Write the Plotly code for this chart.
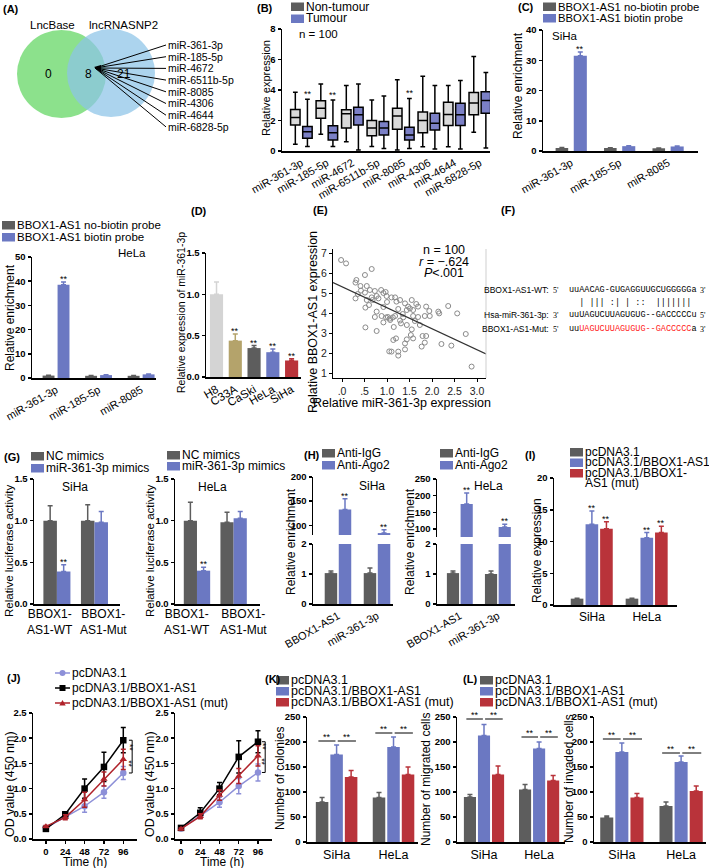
import plotly.graph_objects as go

W, H = 709, 868
SANS = "Liberation Sans"
MONO = "Liberation Mono"
GREY = "#5d5d5d"; BLUE = "#6b78c2"; RED = "#b9333a"; LGREY = "#d4d4d4"
OLIVE = "#b4a36b"; PURPLE = "#8d90d8"; BOXBLUE = "#7b80c6"; BOXGREY = "#dadada"

# ---------------- data ----------------
venn_sets = ["LncBase", "lncRNASNP2"]
venn_counts = [0, 8, 21]
venn_mirs = ["miR-361-3p", "miR-185-5p", "miR-4672", "miR-6511b-5p",
             "miR-8085", "miR-4306", "miR-4644", "miR-6828-5p"]

B_mirs = venn_mirs
B_nt_lo = [0.45, 1.10, 0.60, 0.30, 0.07, 0.28, 0.28, 1.23]
B_nt_q1 = [1.70, 2.15, 1.50, 1.00, 1.42, 1.20, 1.67, 2.37]
B_nt_med = [2.20, 2.80, 2.45, 1.50, 2.30, 2.00, 2.40, 3.14]
B_nt_q3 = [2.72, 3.30, 2.70, 2.00, 2.80, 2.55, 3.20, 3.84]
B_nt_hi = [3.85, 4.40, 4.30, 3.35, 4.67, 4.90, 4.30, 6.20]
B_t_lo = [0.30, 0.30, 0.07, 0.17, 0.17, 0.13, 0.13, 0.20]
B_t_q1 = [0.83, 0.72, 1.70, 1.05, 0.72, 1.38, 1.67, 2.48]
B_t_med = [1.27, 1.20, 2.37, 1.50, 1.05, 1.82, 2.37, 3.31]
B_t_q3 = [1.60, 1.65, 2.87, 1.93, 1.55, 2.48, 3.13, 3.88]
B_t_hi = [3.40, 3.35, 4.40, 3.60, 3.45, 4.30, 4.63, 5.15]
B_sig = [True, True, False, False, True, False, False, False]

C_mirs = ["miR-361-3p", "miR-185-5p", "miR-8085"]
C_siha_nob = [1.0, 1.0, 0.9]; C_siha_nob_err = [0.15, 0.1, 0.1]
C_siha_bio = [31.5, 1.6, 1.5]; C_siha_bio_err = [1.2, 0.15, 0.15]
C_hela_nob = [1.0, 0.9, 0.9]; C_hela_nob_err = [0.15, 0.1, 0.1]
C_hela_bio = [38.5, 1.2, 1.5]; C_hela_bio_err = [1.2, 0.15, 0.2]

D_cells = ["H8", "C33A", "CaSki", "HeLa", "SiHa"]
D_vals = [1.0, 0.44, 0.35, 0.30, 0.20]
D_errs = [0.15, 0.08, 0.03, 0.04, 0.02]
D_colors = [LGREY, OLIVE, GREY, BLUE, RED]

E_x = [-0.02, 0.09, 0.66, 0.51, 0.32, 0.30, 0.41, 0.55, 0.62, 0.42,
       0.73, 0.87, 0.77, 0.66, 0.30, 0.51, 0.55, 0.68, 0.81, 0.92,
       0.52, 0.92, 0.77, 0.88, 0.73, 1.02, 0.52, 0.77, 0.92, 1.05,
       0.97, 0.99, 1.18, 1.21, 1.29, 1.40, 1.55, 1.47, 1.44, 1.51,
       1.58, 1.69, 1.87, 1.94, 2.14, 2.16, 2.36, 2.56, 0.98, 1.06,
       1.13, 1.18, 1.29, 1.36, 1.58, 1.69, 1.84, 1.95, 1.07, 1.31,
       1.44, 1.55, 1.53, 1.58, 1.73, 1.79, 1.87, 1.84, 1.77, 1.44,
       1.40, 1.20, 1.14, 1.10, 1.25, 1.25, 1.40, 2.21, 2.43, 2.75,
       2.88, 1.10, 1.35, 1.62, 0.35, 1.25, 1.00, 0.60, 1.15, 1.65]
E_y = [6.65, 6.48, 6.20, 5.90, 5.65, 5.52, 5.35, 5.35, 5.15, 5.12,
       5.10, 5.15, 4.85, 4.78, 4.73, 5.02, 4.65, 4.65, 4.73, 5.00,
       4.27, 4.30, 4.07, 3.85, 3.80, 3.80, 3.28, 3.10, 3.53, 2.08,
       5.05, 4.85, 4.78, 4.57, 4.65, 4.48, 4.65, 4.32, 4.15, 4.23,
       4.15, 4.32, 4.32, 4.10, 4.07, 3.98, 4.35, 3.98, 3.78, 3.72,
       3.78, 3.85, 3.62, 3.78, 3.85, 3.80, 3.85, 3.85, 3.65, 3.48,
       3.40, 3.18, 2.90, 2.73, 3.40, 2.85, 2.85, 2.52, 2.32, 2.68,
       2.48, 2.73, 2.65, 2.07, 2.07, 1.87, 2.18, 2.45, 2.37, 2.95,
       1.32, 4.78, 3.95, 3.60, 4.95, 4.20, 4.55, 4.40, 3.30, 4.45]
E_fit_x = [-0.2, 3.2]
E_fit_y = [5.52, 1.95]
E_stats = ["n = 100", "<i>r</i> = −.624", "<i>P</i>&lt;.001"]

F_labels = ["BBOX1-AS1-WT:", "Hsa-miR-361-3p:", "BBOX1-AS1-Mut:"]
F_wt = "uuAACAG-GUGAGGUUGCUGGGGGa"
F_mir = "uuUAGUCUUAGUGUG--GACCCCCu"
F_pair = "  | ||| :| | ::  ||||||| "
F_mut_core = "UAGUCUUAGUGUG--GACCCCC"

G_cats = ["BBOX1-<br>AS1-WT", "BBOX1-<br>AS1-Mut"]
G_siha_nc = [1.0, 1.0]; G_siha_nc_err = [0.18, 0.19]
G_siha_mi = [0.39, 0.98]; G_siha_mi_err = [0.08, 0.13]
G_hela_nc = [1.0, 0.98]; G_hela_nc_err = [0.22, 0.12]
G_hela_mi = [0.40, 1.03]; G_hela_mi_err = [0.04, 0.08]

H_cats = ["BBOX1-AS1", "miR-361-3p"]
H_siha_igg = [1.03, 1.03]; H_siha_igg_err = [0.07, 0.17]
H_siha_ago = [133, 84]; H_siha_ago_err = [22, 7]
H_hela_igg = [1.03, 1.0]; H_hela_igg_err = [0.07, 0.1]
H_hela_ago = [175, 106]; H_hela_ago_err = [33, 8]

I_cells = ["SiHa", "HeLa"]
I_pc = [1.0, 1.0]; I_pc_err = [0.05, 0.05]
I_bb = [12.7, 10.6]; I_bb_err = [2.1, 0.8]
I_mut = [12.0, 11.4]; I_mut_err = [1.1, 1.0]

J_time = [0, 24, 48, 72, 96]
J1_pc = [0.22, 0.44, 0.65, 0.93, 1.31]; J1_pc_err = [0.02, 0.04, 0.12, 0.12, 0.13]
J1_bb = [0.20, 0.49, 1.00, 1.43, 1.96]; J1_bb_err = [0.02, 0.05, 0.19, 0.29, 0.25]
J1_mut = [0.25, 0.43, 0.78, 1.19, 1.58]; J1_mut_err = [0.02, 0.05, 0.15, 0.14, 0.20]
J2_pc = [0.21, 0.46, 0.73, 1.05, 1.32]; J2_pc_err = [0.02, 0.04, 0.10, 0.15, 0.17]
J2_bb = [0.22, 0.52, 1.00, 1.63, 1.93]; J2_bb_err = [0.02, 0.10, 0.12, 0.32, 0.22]
J2_mut = [0.20, 0.45, 0.87, 1.25, 1.65]; J2_mut_err = [0.02, 0.05, 0.10, 0.15, 0.20]

K_pc = [80, 89]; K_pc_err = [9, 10]
K_bb = [175, 190]; K_bb_err = [19, 20]
K_mut = [130, 135]; K_mut_err = [13, 15]
K_sig_y = [202, 218]
L1_pc = [90, 105]; L1_pc_err = [5, 10]
L1_bb = [213, 187]; L1_bb_err = [22, 13]
L1_mut = [135, 123]; L1_mut_err = [17, 10]
L1_sig_y = [246, 210]
L2_pc = [49, 72]; L2_pc_err = [3, 8]
L2_bb = [180, 160]; L2_bb_err = [18, 12]
L2_mut = [89, 102]; L2_mut_err = [8, 10]
L2_sig_y = [206, 178]

PC_NAMES = ["pcDNA3.1", "pcDNA3.1/BBOX1-AS1", "pcDNA3.1/BBOX1-AS1 (mut)"]

# ---------------- helpers ----------------
fig = go.Figure()
layout = dict(template="none", width=W, height=H,
              margin=dict(l=0, r=0, t=0, b=0, pad=0, autoexpand=False),
              paper_bgcolor="white", plot_bgcolor="white", showlegend=False,
              boxmode="group", boxgap=0.05, boxgroupgap=0.22, barmode="group",
              font=dict(family=SANS, color="black"))
shapes, annotations = [], []
BOLD = dict(family=SANS, size=9.5, color="black", weight="bold")
n_ax = [0]


def make_axes(x0, x1, yt, yb, xrange, yrange, xcat=None, xtickangle=0,
              yticks=None, yticktext=None, xticks=None, xticktext=None,
              show_x=True, tickfont=None, catsize=11, lw=1.5, xlabels=True):
    n_ax[0] += 1
    s = "" if n_ax[0] == 1 else str(n_ax[0])
    tf = tickfont or BOLD
    xa = dict(domain=[x0 / W, x1 / W], anchor="y" + s, range=xrange,
              showgrid=False, zeroline=False, showline=show_x, automargin=False,
              linecolor="black", linewidth=lw, fixedrange=True)
    if xcat is not None:
        xa.update(type="category", categoryorder="array", categoryarray=xcat,
                  ticks="", tickangle=xtickangle, showticklabels=xlabels,
                  tickfont=dict(family=SANS, size=catsize, color="black"))
    else:
        xa.update(type="linear", ticks="outside", ticklen=3, tickwidth=lw,
                  tickcolor="black", tickvals=xticks, ticktext=xticktext,
                  tickfont=tf, tickangle=0)
    if not show_x:
        xa.update(showticklabels=False, ticks="")
    ya = dict(domain=[1 - yb / H, 1 - yt / H], anchor="x" + s, range=yrange,
              showgrid=False, zeroline=False, showline=True, linecolor="black",
              linewidth=lw, ticks="outside", ticklen=3, tickwidth=lw,
              tickcolor="black", tickvals=yticks, ticktext=yticktext,
              tickfont=tf, fixedrange=True, automargin=False)
    layout["xaxis" + s] = xa
    layout["yaxis" + s] = ya
    return "x" + s, "y" + s


def text_px(x, y, t, size=11.5, xanchor="left", yanchor="middle", angle=0,
            color="black", family=SANS, bold=False):
    annotations.append(dict(xref="paper", yref="paper", x=x / W, y=1 - y / H,
                            text=("<b>%s</b>" % t) if bold else t,
                            showarrow=False, xanchor=xanchor, yanchor=yanchor,
                            textangle=angle, borderpad=0,
                            font=dict(size=size, family=family, color=color)))


def rect_px(x0, y0, x1, y1, color):
    shapes.append(dict(type="rect", xref="paper", yref="paper", x0=x0 / W,
                       x1=x1 / W, y0=1 - y1 / H, y1=1 - y0 / H,
                       fillcolor=color, line=dict(width=0)))


def line_px(x0, y0, x1, y1, color="black", width=1):
    shapes.append(dict(type="line", xref="paper", yref="paper", x0=x0 / W,
                       x1=x1 / W, y0=1 - y0 / H, y1=1 - y1 / H,
                       line=dict(color=color, width=width)))


def legend_sq(x, y0, dy, items, size=11.5):
    for i, (c, t) in enumerate(items):
        y = y0 + i * dy
        rect_px(x, y - 4, x + 13, y + 4.5, c)
        text_px(x + 14, y, t, size)


def bars(xa, ya, cats, vals, errs, color, center, width):
    fig.add_trace(go.Bar(
        x=cats, y=vals, xaxis=xa, yaxis=ya, width=width,
        offset=center - width / 2, marker=dict(color=color, line=dict(width=0)),
        error_y=dict(type="data", symmetric=False, array=errs,
                     arrayminus=[0] * len(errs), color=color, thickness=1.5,
                     width=2.5),
        showlegend=False, hoverinfo="skip"))


def star(xa, ya, x, y, size=9, shift=-3):
    annotations.append(dict(xref=xa, yref=ya, x=x, y=y, text="**",
                            showarrow=False, yanchor="bottom", yshift=shift,
                            borderpad=0, font=dict(size=size, family=SANS)))


def cat_label(xa, x, ypx, t, size=12):
    annotations.append(dict(xref=xa, yref="paper", x=x, y=1 - ypx / H, text=t,
                            showarrow=False, xanchor="center", yanchor="top",
                            borderpad=0, font=dict(size=size, family=SANS)))


def panel_label(x, y, t):
    text_px(x, y, "(%s)" % t, size=11, bold=True)


# ---------------- (A) Venn ----------------
panel_label(2, 9, "A")
shapes.append(dict(type="circle", xref="paper", yref="paper", x0=17 / W, x1=106 / W,
                   y0=1 - 118 / H, y1=1 - 30 / H, fillcolor="rgba(128,222,128,0.9)",
                   line=dict(width=0), layer="below"))
shapes.append(dict(type="circle", xref="paper", yref="paper", x0=67 / W, x1=155 / W,
                   y0=1 - 117 / H, y1=1 - 29 / H, fillcolor="rgba(140,196,232,0.72)",
                   line=dict(width=0), layer="below"))
text_px(52, 25, venn_sets[0], 11.5, "center")
text_px(123, 25, venn_sets[1], 11.5, "center")
text_px(48, 74, str(venn_counts[0]), 12, "center")
text_px(88, 74, str(venn_counts[1]), 12, "center")
text_px(124, 74, str(venn_counts[2]), 12, "center")
for i, m in enumerate(venn_mirs):
    yy = 45 + i * 11.7
    line_px(95, 68, 166, yy, "black", 1)
    text_px(167, yy, m, 10.5)
shapes.append(dict(type="path", xref="paper", yref="paper",
                   path="M %f,%f L %f,%f L %f,%f Z" % (94 / W, 1 - 67 / H, 101 / W, 1 - 65 / H, 101 / W, 1 - 72 / H),
                   fillcolor="black", line=dict(width=0)))

# ---------------- (B) boxes ----------------
panel_label(256, 8, "B")
legend_sq(291, 6.5, 12, [(GREY, "Non-tumour"), (BLUE, "Tumour")], 12)
xb, yb = make_axes(282, 490, 29, 151, [-0.76, 7.4], [0, 8], xcat=B_mirs,
                   xtickangle=-30, yticks=[0, 2, 4, 6, 8])
fig.add_trace(go.Box(x=B_mirs, q1=B_nt_q1, median=B_nt_med, q3=B_nt_q3,
                     lowerfence=B_nt_lo, upperfence=B_nt_hi, offsetgroup="nt",
                     fillcolor=BOXGREY, line=dict(color="black", width=1.5),
                     whiskerwidth=0.5, boxpoints=False, xaxis=xb, yaxis=yb,
                     showlegend=False, hoverinfo="skip"))
fig.add_trace(go.Box(x=B_mirs, q1=B_t_q1, median=B_t_med, q3=B_t_q3,
                     lowerfence=B_t_lo, upperfence=B_t_hi, offsetgroup="t",
                     fillcolor=BOXBLUE, line=dict(color="black", width=1.5),
                     whiskerwidth=0.5, boxpoints=False, xaxis=xb, yaxis=yb,
                     showlegend=False, hoverinfo="skip"))
for i, s in enumerate(B_sig):
    if s:
        star(xb, yb, i + 0.25, B_t_hi[i], 9, -1)
text_px(298, 34, "n = 100", 11.5)
text_px(266, 88, "Relative expression", 11, "center", angle=-90)

# ---------------- (C) SiHa pulldown ----------------
panel_label(517, 7, "C")
legend_sq(543, 6.5, 11.5, [(GREY, "BBOX1-AS1 no-biotin probe"), (BLUE, "BBOX1-AS1 biotin probe")], 11.3)
xc, yc = make_axes(543, 698, 30, 151, [-0.58, 2.62], [0, 40], xcat=C_mirs,
                   xtickangle=-30, yticks=[0, 10, 20, 30, 40])
bars(xc, yc, C_mirs, C_siha_nob, C_siha_nob_err, GREY, -0.19, 0.26)
bars(xc, yc, C_mirs, C_siha_bio, C_siha_bio_err, BLUE, 0.19, 0.27)
star(xc, yc, 0.19, C_siha_bio[0] + C_siha_bio_err[0])
text_px(565, 36, "SiHa", 11.5, "center")
text_px(518, 86, "Relative enrichment", 12, "center", angle=-90)

# ---------------- (C) HeLa pulldown ----------------
legend_sq(2, 225, 12, [(GREY, "BBOX1-AS1 no-biotin probe"), (BLUE, "BBOX1-AS1 biotin probe")], 11.5)
xc2, yc2 = make_axes(32, 156, 257, 378, [-0.565, 2.35], [0, 50], xcat=C_mirs,
                     xtickangle=-30, yticks=[0, 10, 20, 30, 40, 50])
bars(xc2, yc2, C_mirs, C_hela_nob, C_hela_nob_err, GREY, -0.176, 0.28)
bars(xc2, yc2, C_mirs, C_hela_bio, C_hela_bio_err, BLUE, 0.176, 0.28)
star(xc2, yc2, 0.176, C_hela_bio[0] + C_hela_bio_err[0])
text_px(132, 253, "HeLa", 11.5, "center")
text_px(10, 318, "Relative enrichment", 12, "center", angle=-90)

# ---------------- (D) ----------------
panel_label(190, 211, "D")
xd, yd = make_axes(206, 301, 253, 377, [-0.56, 4.5], [0, 1.5], xcat=D_cells,
                   xtickangle=-30, yticks=[0, 0.5, 1.0, 1.5],
                   yticktext=["0.0", "0.5", "1.0", "1.5"], catsize=11.5)
for i in range(len(D_cells)):
    bars(xd, yd, [D_cells[i]], [D_vals[i]], [D_errs[i]], D_colors[i], 0, 0.7)
    if i > 0:
        star(xd, yd, i, D_vals[i] + D_errs[i])
text_px(181, 313, "Relative expression of miR-361-3p", 10.5, "center", angle=-90)

# ---------------- (E) scatter ----------------
panel_label(312, 210, "E")
EF = dict(family=SANS, size=10.5, color="#222")
xe, ye = make_axes(333, 486, 249, 378, [-0.2, 3.2], [0.75, 7.2],
                   xticks=[0, 0.5, 1, 1.5, 2, 2.5, 3],
                   xticktext=[".0", ".5", "1.0", "1.5", "2.0", "2.5", "3.0"],
                   yticks=[1, 2, 3, 4, 5, 6, 7], tickfont=EF, lw=1)
line_px(486, 249, 486, 378, "#cfcfcf", 1)
fig.add_trace(go.Scatter(x=E_x, y=E_y, mode="markers", xaxis=xe, yaxis=ye,
                         marker=dict(symbol="circle-open", size=5, color="#8a8a8a",
                                     line=dict(width=1)),
                         showlegend=False, hoverinfo="skip"))
fig.add_trace(go.Scatter(x=E_fit_x, y=E_fit_y, mode="lines", xaxis=xe, yaxis=ye,
                         line=dict(color="#333", width=1.2), showlegend=False,
                         hoverinfo="skip"))
for i, t in enumerate(E_stats):
    text_px(444, 250 + i * 11.5, t, 12.5, "center")
text_px(402, 403, "Relative miR-361-3p expression", 12.5, "center")
text_px(313, 322, "Relative BBOX1-AS1 expression", 12.5, "center", angle=-90)

# ---------------- (F) sequences ----------------
panel_label(500, 210, "F")
NB = "\u00a0"
SEQ = 8.5
for lab, yy, p5, p3 in [(F_labels[0], 290, "5'", "3'"), (F_labels[1], 315, "3'", "5'"),
                        (F_labels[2], 329, "5'", "3'")]:
    text_px(550, yy, lab, 8.5, "right")
    text_px(552, yy, p5, 8, "left", family="Liberation Serif")
    text_px(699, yy, p3, 8, "left", family="Liberation Serif")
text_px(568, 290, F_wt, SEQ, family=MONO)
text_px(568, 303, F_pair.replace(" ", NB), SEQ, family=MONO)
text_px(568, 315, F_mir, SEQ, family=MONO)
text_px(568, 329, 'uu<span style="color:#ff2020">%s</span>a' % F_mut_core, SEQ, family=MONO)

# ---------------- (G) luciferase ----------------
panel_label(3, 457, "G")
legend_sq(31, 456, 12, [(GREY, "NC mimics"), (BLUE, "miR-361-3p mimics")], 12)
legend_sq(167, 455, 11, [(GREY, "NC mimics"), (BLUE, "miR-361-3p mimics")], 12)
GT = [0, 0.5, 1.0, 1.5]; GTT = ["0.0", "0.5", "1.0", "1.5"]
xg1, yg1 = make_axes(34, 120, 479, 604, [-0.61, 1.68], [0, 1.5], xcat=G_cats,
                     yticks=GT, yticktext=GTT, xlabels=False)
bars(xg1, yg1, G_cats, G_siha_nc, G_siha_nc_err, GREY, -0.18, 0.36)
bars(xg1, yg1, G_cats, G_siha_mi, G_siha_mi_err, BLUE, 0.18, 0.36)
star(xg1, yg1, 0.18, G_siha_mi[0] + G_siha_mi_err[0])
cat_label(xg1, -0.19, 606, G_cats[0])
cat_label(xg1, 1.25, 606, G_cats[1])
text_px(75, 487, "SiHa", 12, "center")
text_px(9, 551, "Relative luciferase activity", 11.5, "center", angle=-90)
xg2, yg2 = make_axes(175, 260, 479, 604, [-0.6, 1.72], [0, 1.5], xcat=G_cats,
                     yticks=GT, yticktext=GTT, xlabels=False)
bars(xg2, yg2, G_cats, G_hela_nc, G_hela_nc_err, GREY, -0.18, 0.36)
bars(xg2, yg2, G_cats, G_hela_mi, G_hela_mi_err, BLUE, 0.18, 0.36)
star(xg2, yg2, 0.18, G_hela_mi[0] + G_hela_mi_err[0])
cat_label(xg2, -0.27, 606, G_cats[0])
cat_label(xg2, 1.28, 606, G_cats[1])
text_px(213, 487, "HeLa", 12, "center")
text_px(150, 551, "Relative luciferase activity", 11.5, "center", angle=-90)

# ---------------- (H) RIP broken axes ----------------
panel_label(303, 455, "H")
legend_sq(322, 453, 12, [(GREY, "Anti-IgG"), (BLUE, "Anti-Ago2")], 12)
legend_sq(440, 453, 12, [(GREY, "Anti-IgG"), (BLUE, "Anti-Ago2")], 12)
for (x0, x1, xr, up_top, up_bot, up_rng, up_ticks, igg, igg_e, ago, ago_e, title, tx, ytx) in [
        (313, 393, [-0.64, 1.41], 477, 535, [80, 200], [100, 150, 200],
         H_siha_igg, H_siha_igg_err, H_siha_ago, H_siha_ago_err, "SiHa", 372, 291),
        (437, 515, [-0.6, 1.45], 479, 537, [76, 250], [100, 150, 200, 250],
         H_hela_igg, H_hela_igg_err, H_hela_ago, H_hela_ago_err, "HeLa", 488, 410)]:
    xl, yl = make_axes(x0, x1, 544, 604, xr, [0, 2], xcat=H_cats, xtickangle=-30,
                       yticks=[0, 1, 2], catsize=11)
    bars(xl, yl, H_cats, igg, igg_e, GREY, -0.18, 0.32)
    bars(xl, yl, H_cats, ago, ago_e, BLUE, 0.18, 0.32)
    xu, yu = make_axes(x0, x1, up_top, up_bot, xr, up_rng, xcat=H_cats,
                       yticks=up_ticks, show_x=False)
    bars(xu, yu, H_cats, igg, igg_e, GREY, -0.18, 0.32)
    bars(xu, yu, H_cats, ago, ago_e, BLUE, 0.18, 0.32)
    for i in range(2):
        star(xu, yu, i + 0.18, ago[i] + ago_e[i])
    text_px(tx, 486, title, 12, "center")
    text_px(ytx, 542, "Relative enrichment", 12, "center", angle=-90)

# ---------------- (I) overexpression ----------------
panel_label(524, 455, "I")
legend_sq(570, 452, 10.5, [(GREY, "pcDNA3.1"), (BLUE, "pcDNA3.1/BBOX1-AS1"), (RED, "pcDNA3.1/BBOX1-")], 12)
text_px(584, 483, "AS1 (mut)", 12)
xi, yi = make_axes(554, 677, 478, 605, [-0.69, 1.55], [0, 20], xcat=I_cells,
                   yticks=[0, 5, 10, 15, 20], catsize=12)
bars(xi, yi, I_cells, I_pc, I_pc_err, GREY, -0.27, 0.23)
bars(xi, yi, I_cells, I_bb, I_bb_err, BLUE, 0.0, 0.23)
bars(xi, yi, I_cells, I_mut, I_mut_err, RED, 0.265, 0.23)
for i in range(2):
    star(xi, yi, i, I_bb[i] + I_bb_err[i])
    star(xi, yi, i + 0.265, I_mut[i] + I_mut_err[i])
text_px(537, 551, "Relative expression", 12, "center", angle=-90)

# ---------------- (J) growth curves ----------------
panel_label(6, 678, "J")
J_styles = [(PURPLE, "circle"), ("black", "square"), ("#b0222a", "triangle-up")]
for k, (c, sym) in enumerate(J_styles):
    yy = 673 + k * 15
    line_px(55, yy, 70, yy, c, 1.5)
    text_px(71, yy, PC_NAMES[k], 12)
    cx = 62.5
    if sym == "circle":
        shapes.append(dict(type="circle", xref="paper", yref="paper", x0=(cx - 3) / W, x1=(cx + 3) / W,
                           y0=1 - (yy + 3) / H, y1=1 - (yy - 3) / H, fillcolor=c, line=dict(width=0)))
    elif sym == "square":
        rect_px(cx - 3, yy - 3, cx + 3, yy + 3, c)
    else:
        shapes.append(dict(type="path", xref="paper", yref="paper",
                           path="M %f,%f L %f,%f L %f,%f Z" % ((cx - 3.2) / W, 1 - (yy + 2.6) / H,
                                                              (cx + 3.2) / W, 1 - (yy + 2.6) / H,
                                                              cx / W, 1 - (yy - 3) / H),
                           fillcolor=c, line=dict(width=0)))
JT = [0, 0.5, 1.0, 1.5, 2.0, 2.5]; JTT = ["0.0", "0.5", "1.0", "1.5", "2.0", "2.5"]
for (x0, x1, xr, series, ytx, ttx, bx) in [
        (33, 137, [-16, 113], [(J1_pc, J1_pc_err), (J1_bb, J1_bb_err), (J1_mut, J1_mut_err)], 10, 85, 106),
        (175, 272, [-7.5, 113.5], [(J2_pc, J2_pc_err), (J2_bb, J2_bb_err), (J2_mut, J2_mut_err)], 150, 222, 104)]:
    xj, yj = make_axes(x0, x1, 713, 839, xr, [0, 2.5], xticks=J_time,
                       yticks=JT, yticktext=JTT)
    for (vals, errs), (c, sym) in zip(series, J_styles):
        fig.add_trace(go.Scatter(x=J_time, y=vals, xaxis=xj, yaxis=yj, mode="lines+markers",
                                 line=dict(color=c, width=1.5),
                                 marker=dict(symbol=sym, size=6.5, color=c),
                                 error_y=dict(type="data", array=errs, color=c,
                                              thickness=1.5, width=2.5),
                                 showlegend=False, hoverinfo="skip"))
    top, mid, bot = series[1][0][-1], series[2][0][-1], series[0][0][-1]
    for (ya_, yb_) in [(top, top), (bot, bot)]:
        shapes.append(dict(type="line", xref=xj, yref=yj, x0=bx - 3, x1=bx + 1, y0=ya_, y1=yb_,
                           line=dict(color="black", width=1)))
    shapes.append(dict(type="line", xref=xj, yref=yj, x0=bx + 1, x1=bx + 1, y0=bot, y1=top,
                       line=dict(color="black", width=1)))
    for yy in [(top + mid) / 2 + 0.05, (mid + bot) / 2 + 0.05]:
        annotations.append(dict(xref=xj, yref=yj, x=bx - 2.5, y=yy, text="**", showarrow=False,
                                textangle=90, font=dict(size=8.5, family=SANS)))
    text_px(ytx, 784, "OD value (450 nm)", 12.5, "center", angle=-90)
    text_px(ttx, 862, "Time (h)", 12, "center")

# ---------------- (K) & (L) ----------------
panel_label(264, 679, "K")
panel_label(462, 679, "L")
legend_sq(276, 680, 11, [(GREY, PC_NAMES[0]), (BLUE, PC_NAMES[1]), (RED, PC_NAMES[2])], 12.5)
legend_sq(480, 680, 11, [(GREY, PC_NAMES[0]), (BLUE, PC_NAMES[1]), (RED, PC_NAMES[2])], 12.5)
KT = [0, 50, 100, 150, 200, 250]
for (x0, x1, xr, pc, pce, bb, bbe, mu, mue, sig, title, ytx) in [
        (307, 418, [-0.52, 1.43], K_pc, K_pc_err, K_bb, K_bb_err, K_mut, K_mut_err, K_sig_y, "Number of colonies", 280),
        (457, 565, [-0.49, 1.47], L1_pc, L1_pc_err, L1_bb, L1_bb_err, L1_mut, L1_mut_err, L1_sig_y, "Number of migrated cells", 426),
        (594, 706, [-0.47, 1.42], L2_pc, L2_pc_err, L2_bb, L2_bb_err, L2_mut, L2_mut_err, L2_sig_y, "Number of invaded cells", 569)]:
    xk, yk = make_axes(x0, x1, 717, 842, xr, [0, 250], xcat=I_cells,
                       yticks=KT, catsize=12.5)
    bars(xk, yk, I_cells, pc, pce, GREY, -0.255, 0.22)
    bars(xk, yk, I_cells, bb, bbe, BLUE, 0.0, 0.22)
    bars(xk, yk, I_cells, mu, mue, RED, 0.255, 0.22)
    for i in range(2):
        for a, b in [(-0.32, -0.02), (0.02, 0.34)]:
            shapes.append(dict(type="line", xref=xk, yref=yk, x0=i + a, x1=i + b,
                               y0=sig[i], y1=sig[i], line=dict(color="black", width=1)))
            star(xk, yk, i + (a + b) / 2, sig[i], 9, -2)
    text_px(ytx, 779, title, 12, "center", angle=-90)

layout["shapes"] = shapes
layout["annotations"] = annotations
fig.update_layout(**layout)
fig.write_html("out.html", config={"displayModeBar": False, "staticPlot": True},
               post_script="document.body.style.margin='0px';document.body.style.padding='0px';document.body.style.overflow='hidden';")
